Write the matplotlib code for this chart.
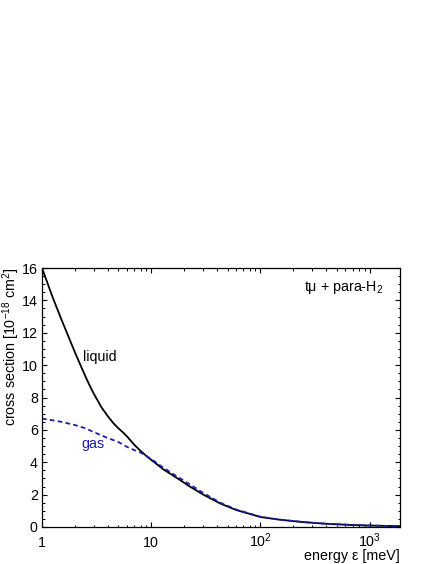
import matplotlib
matplotlib.use("Agg")
import matplotlib.pyplot as plt
from matplotlib.ticker import NullFormatter, MultipleLocator, LogLocator

plt.rcParams['font.family'] = ['Liberation Sans', 'DejaVu Sans']
plt.rcParams['mathtext.fontset'] = 'custom'
plt.rcParams['mathtext.rm'] = 'Liberation Sans'
plt.rcParams['mathtext.it'] = 'Liberation Sans'

# data
liquid_E = [1, 1.25, 1.5, 1.75, 2, 2.25, 2.5, 2.75, 3, 3.5, 4, 4.5, 5, 5.5, 6, 6.5, 7,
            8, 9, 10, 13, 17, 22, 30, 43, 60, 100, 150, 250, 400, 700, 1000, 1900]
liquid_sigma = [16.0, 14.2, 12.85, 11.75, 10.8, 10.0, 9.3, 8.7, 8.2, 7.4, 6.85, 6.42,
                6.1, 5.85, 5.6, 5.33, 5.08, 4.7, 4.4, 4.15, 3.55, 3.05, 2.55, 2.0,
                1.45, 1.05, 0.62, 0.45, 0.3, 0.2, 0.12, 0.09, 0.05]
gas_E = [1, 1.5, 2, 2.5, 3, 4, 5, 6, 7, 8, 10, 13, 17, 22, 30, 43, 60,
         100, 150, 250, 400, 700, 1000, 1900]
gas_sigma = [6.7, 6.5, 6.3, 6.1, 5.85, 5.5, 5.25, 4.95, 4.75, 4.6, 4.2, 3.65, 3.15,
             2.68, 2.1, 1.5, 1.08, 0.63, 0.46, 0.3, 0.2, 0.13, 0.09, 0.05]
x_ticks = [1, 10, 100, 1000]
x_ticklabels = ['1', '10', r'10$^{2}$', r'10$^{3}$']
y_ticks = [0, 2, 4, 6, 8, 10, 12, 14, 16]

blue = '#1c1cb0'
fs = 10.3

fig = plt.figure(figsize=(4.36, 5.64), dpi=100)
ax = fig.add_axes([42/436, (564-527)/564, (400-42)/436, (527-268)/564])

ax.plot(liquid_E, liquid_sigma, color='black', lw=1.3)
ax.plot(gas_E, gas_sigma, color=blue, lw=1.3, ls=(0, (2.6, 1.8)))

ax.set_xscale('log')
ax.set_xlim(1, 1900)
ax.set_ylim(0, 16)
ax.set_xticks(x_ticks)
ax.set_xticklabels(x_ticklabels, va='baseline')
ax.xaxis.set_minor_locator(LogLocator(base=10, subs=range(2, 10)))
ax.xaxis.set_minor_formatter(NullFormatter())
ax.set_yticks(y_ticks)
ax.yaxis.set_minor_locator(MultipleLocator(0.5))

ax.tick_params(which='both', direction='in', top=True, right=True, labelsize=fs)
ax.tick_params(which='major', length=3.3, width=0.8)
ax.tick_params(which='minor', length=1.8, width=0.7)
ax.tick_params(axis='x', which='major', pad=14.5)
ax.tick_params(axis='y', which='major', pad=3)
for s in ax.spines.values():
    s.set_linewidth(0.9)

ax.set_ylabel(r'cross section [10$^{-18}$ cm$^{2}$]', fontsize=fs)
ax.yaxis.set_label_coords(-0.057, 0.695)
ax.set_xlabel(r'energy ε [meV]', fontsize=fs)
ax.xaxis.set_label_coords(1.0, -0.112)
ax.xaxis.label.set_horizontalalignment('right')
ax.xaxis.label.set_verticalalignment('center')

ax.text(0.953, 0.923, r'tμ + para-H$_2$', transform=ax.transAxes, ha='right', va='center', fontsize=fs)
ax.text(3.35, 10.5, 'liquid', fontsize=fs, ha='center', va='center', color='black')
ax.text(2.95, 5.15, 'gas', fontsize=fs, ha='center', va='center', color=blue)

fig.savefig('out.png', dpi=100)
